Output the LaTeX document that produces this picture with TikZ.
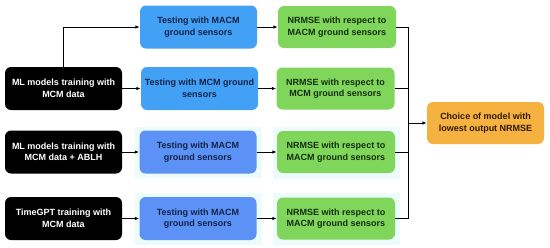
\documentclass[tikz,border=0pt]{standalone}
\usepackage{fontspec}
\setmainfont{Liberation Sans}
\usetikzlibrary{arrows.meta}
\definecolor{blk}{RGB}{0,0,0}
\definecolor{blueA}{RGB}{66,160,245}
\definecolor{blueB}{RGB}{92,146,245}
\definecolor{greenA}{RGB}{128,214,90}
\definecolor{orangeA}{RGB}{245,178,64}
\definecolor{halo}{RGB}{236,252,253}
\definecolor{txtblue}{RGB}{20,35,70}
\definecolor{txtgreen}{RGB}{20,45,15}
\definecolor{txtorange}{RGB}{50,25,5}
\tikzset{
  box/.style={rounded corners=6pt, minimum width=117pt, minimum height=43pt, align=center, inner sep=1pt, font=\fontsize{9}{11.5}\selectfont\bfseries},
  blackbox/.style={box, fill=blk, text=white},
  bluebox/.style={box, fill=blueA, text=txtblue},
  bluebox2/.style={box, fill=blueB, text=txtblue},
  greenbox/.style={box, fill=greenA, text=txtgreen, minimum width=118pt, minimum height=42pt},
  orangebox/.style={box, fill=orangeA, text=txtorange, minimum height=42pt},
  arr/.style={line width=0.9pt, -{Latex[length=4.5pt,width=3.5pt]}},
  ln/.style={line width=0.9pt}
}
\begin{document}
\begin{tikzpicture}[x=1pt,y=-1pt]
\useasboundingbox (0,0) rectangle (550,247);
% halos
\fill[halo] (135,127) rectangle (262,178);
\fill[halo] (273,127) rectangle (400,179);
\fill[halo] (135,193) rectangle (262,245);
\fill[halo] (273,193) rectangle (400,245);
% left
\node[blackbox] (b1) at (63.5,88.5) {ML models training with\\MCM data};
\node[blackbox] (b3) at (63.5,152) {ML models training with\\MCM data + ABLH};
\node[blackbox] (b4) at (63.5,218.5) {TimeGPT training with\\MCM data};
% blue
\node[bluebox] (t1) at (198.5,27) {Testing with MACM\\ground sensors};
\node[bluebox] (t2) at (199.5,88.5) {Testing with MCM ground\\sensors};
\node[bluebox2] (t3) at (198,152) {Testing with MACM\\ground sensors};
\node[bluebox2] (t4) at (198,218.5) {Testing with MACM\\ground sensors};
% green
\node[greenbox] (g1) at (337,27) {NRMSE with respect to\\MACM ground sensors};
\node[greenbox] (g2) at (335.5,88.5) {NRMSE with respect to\\MCM ground sensors};
\node[greenbox] (g3) at (336,152) {NRMSE with respect to\\MACM ground sensors};
\node[greenbox] (g4) at (336,218.5) {NRMSE with respect to\\MACM ground sensors};
% orange
\node[orangebox] (o) at (485.5,123) {Choice of model with\\lowest output NRMSE};
% connectors
\draw[arr] (b1.north) |- (t1.west);
\draw[arr] (b1.east) -- (t2.west);
\draw[arr] (b3.east) -- (t3.west);
\draw[arr] (b4.east) -- (t4.west);
\draw[arr] (t1.east) -- (g1.west);
\draw[arr] (t2.east) -- (g2.west);
\draw[arr] (t3.east) -- (g3.west);
\draw[arr] (t4.east) -- (g4.west);
\coordinate (busT) at (408,27);
\coordinate (busB) at (408,218.5);
\coordinate (busM) at (408,123);
\draw[ln] (g1.east) -- (busT) -- (busB) -- (g4.east);
\draw[ln] (g2.east) -- (g2.east -| busT);
\draw[ln] (g3.east) -- (g3.east -| busT);
\draw[arr] (busM) -- (o.west);
\end{tikzpicture}
\end{document}
